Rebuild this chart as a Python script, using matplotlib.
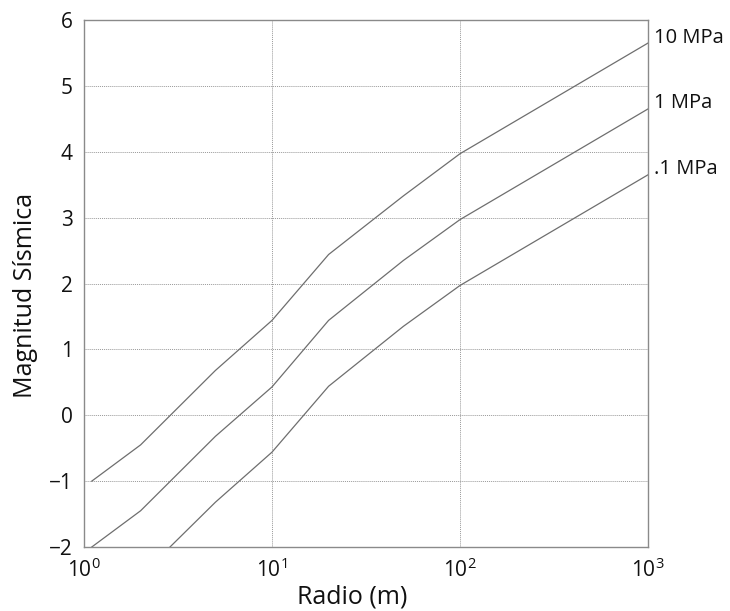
import matplotlib
matplotlib.use("Agg")
import matplotlib.pyplot as plt

plt.rcParams['font.family'] = ['Open Sans', 'DejaVu Sans']
plt.rcParams['mathtext.fontset'] = 'custom'
plt.rcParams['mathtext.rm'] = 'Open Sans'
plt.rcParams['mathtext.it'] = 'Open Sans'

# Data
radio = [1.1, 2, 5, 10, 20, 50, 100, 1000]
m_10mpa = [-1.0, -0.45, 0.68, 1.44, 2.44, 3.33, 3.97, 5.65]
m_1mpa = [-2.0, -1.45, -0.32, 0.43, 1.44, 2.35, 2.97, 4.65]
radio_01 = [2, 5, 10, 20, 50, 100, 1000]
m_01mpa = [-2.44, -1.32, -0.56, 0.44, 1.35, 1.97, 3.65]
labels = ["10 MPa", "1 MPa", ".1 MPa"]
yticks = [-2, -1, 0, 1, 2, 3, 4, 5, 6]
xticks = [1, 10, 100, 1000]
xticklabels = [r"$10^{0}$", r"$10^{1}$", r"$10^{2}$", r"$10^{3}$"]

fig = plt.figure(figsize=(7.30, 6.11), dpi=100)
ax = fig.add_axes([84/730, 64/611, 564/730, 527/611])

line_col = "#6e6e6e"
series = [(radio, m_10mpa), (radio, m_1mpa), (radio_01, m_01mpa)]
for (xs, ys), lab in zip(series, labels):
    ax.plot(xs, ys, color=line_col, lw=0.9, clip_on=True)
    ax.annotate(lab, xy=(xs[-1], ys[-1]), xytext=(4, 4), textcoords="offset points",
                ha="left", va="center", fontsize=14.5, color="#111111",
                annotation_clip=False)

ax.set_xscale("log")
ax.set_xlim(1, 1000)
ax.set_ylim(-2, 6)
ax.set_xticks(xticks)
ax.set_xticklabels(xticklabels)
ax.set_yticks(yticks)
ax.minorticks_off()
ax.tick_params(axis="both", length=0, labelsize=15, pad=8, colors="#111111")
ax.grid(True, which="major", linestyle=(0, (1, 1)), color="#999999", lw=0.7)
for sp in ax.spines.values():
    sp.set_color("#8a8a8a")
    sp.set_linewidth(1.0)

fig.text(352.5/730, 7/611, "Radio (m)", fontsize=18, ha="center", va="baseline",
         color="#111111")
fig.text(26/730, 1 - 295.5/611, "Magnitud Sísmica", fontsize=18, rotation=90,
         ha="center", va="center", color="#111111")

fig.savefig("out.png", dpi=100)
